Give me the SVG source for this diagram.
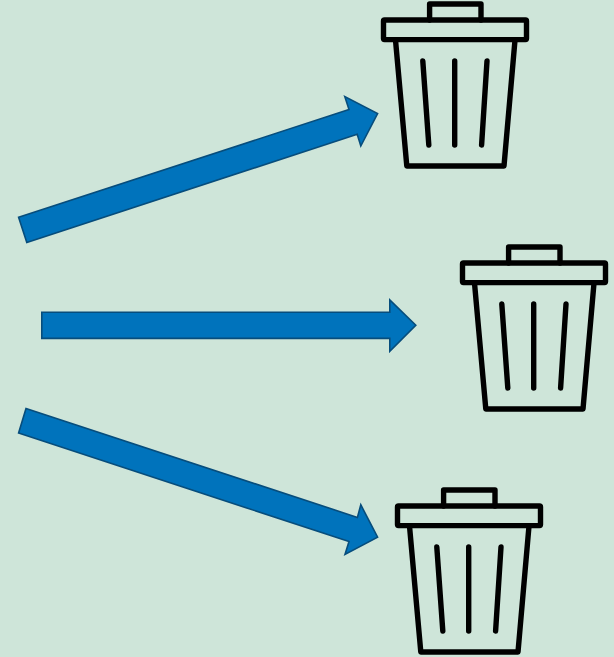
<svg xmlns="http://www.w3.org/2000/svg" width="614" height="657" viewBox="0 0 614 657">
<style>
.arrow{fill:#0073bc;stroke:#074d7c;stroke-width:1.6;stroke-linejoin:miter}
.bin{fill:none;stroke:#000;stroke-width:5.4;stroke-linejoin:round;stroke-linecap:round}
</style>
<defs>
<g id="bin">
<path d="M429.6 20V4H481V20"/>
<rect x="383.5" y="20" width="143" height="19.6" rx="1"/>
<path d="M395.5 40L406.8 166H504L515 40"/>
<path d="M422.8 61L428.8 145M454.7 61V145M487 61L481.6 145"/>
</g>
</defs>
<rect width="614" height="657" fill="#cee5d9"/>
<g id="connectors">
<polygon class="arrow" points="18.6,217.2 349,109.5 344.8,96.5 377.6,113.5 360.8,146 357.2,134.2 26.8,242.6"/>
<polygon class="arrow" points="41.8,312.2 389.8,312.2 389.8,300 415.8,325.3 389.8,351.2 389.8,338.4 41.8,338.4"/>
<polygon class="arrow" points="26,408.4 357.4,517.4 360.8,504.8 377.6,537.2 345,554.4 349,541.6 18.6,433"/>
</g>
<g id="bin1" class="bin"><use href="#bin"/></g>
<g id="bin2" class="bin"><use href="#bin" x="79" y="243"/></g>
<g id="bin3" class="bin"><use href="#bin" x="14" y="486"/></g>
</svg>
